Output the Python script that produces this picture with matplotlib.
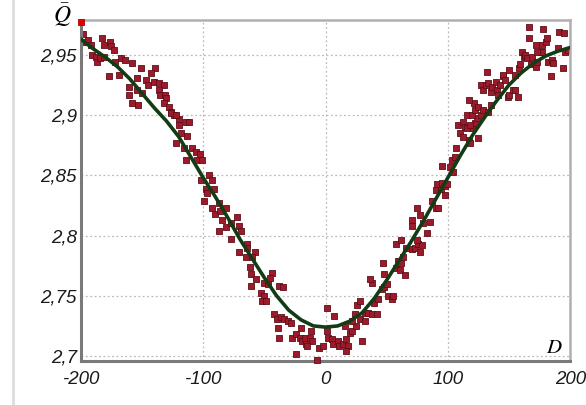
import matplotlib
matplotlib.use("Agg")
import matplotlib.pyplot as plt
from matplotlib.lines import Line2D
from matplotlib.ticker import FuncFormatter

# fitted curve
curve_d = [-200, -190, -180, -170, -160, -150, -140, -130, -120, -110, -100,
           -90, -80, -70, -60, -50, -40, -30, -20, -10, 0,
           10, 20, 30, 40, 50, 60, 70, 80, 90, 100,
           110, 120, 130, 140, 150, 160, 170, 180, 190, 200]
curve_q = [2.963, 2.955, 2.948, 2.940, 2.930, 2.918, 2.906, 2.895, 2.882, 2.865, 2.848,
           2.832, 2.815, 2.797, 2.781, 2.765, 2.750, 2.738, 2.730, 2.725, 2.724,
           2.725, 2.729, 2.736, 2.748, 2.763, 2.779, 2.795, 2.812, 2.830, 2.848,
           2.866, 2.883, 2.898, 2.912, 2.925, 2.935, 2.943, 2.949, 2.953, 2.956]

# measured points
pts_d = [-198, -196, -194, -192, -183, -181, -176, -175, -173, -191,
         -188, -187, -184, -181, -172, -167, -164, -158, -177, -169,
         -151, -139, -143, -154, -147, -145, -140, -136, -132, -161,
         -154, -161, -150, -136, -135, -131, -130, -158, -153, -132,
         -128, -126, -124, -120, -120, -114,
         -126, -122, -112, -118, -113, -122, -116, -109, -106, -103,
         -105, -101, -114, -95, -102, -93, -98, -91, -97, -99,
         -93, -87, -81, -90, -86, -85, -72, -81, -77, -87,
         -71, -69, -77, -64, -64, -71, -58, -65,
         -60, -62, -61, -57, -44, -45, -50, -47, -61, -53,
         -50, -52, -49, -38, -35, -42, -40, -39, -36, -34,
         -31, -28, -38, -27, -24, -21, -19, -16, -17, -20,
         -12, -13, -11, -15, -24, -5, -2, 1, 7, 1,
         2, 5, 6, 10, 11, 14, 17, 18, 17, 20,
         22, 16, 25, 30, 22, 28, 32, 24, 26, 28,
         32, 35, 38, 42, 38, 40, 43, 46, 48, 50,
         47, 48, 51, 54, 55, 58, 59, 58,
         36, 61, 62, 65, 63, 62, 66, 71, 73, 76,
         77, 79, 75, 83, 71, 71, 77, 80, 85, 75,
         87, 90, 92, 90, 94, 91, 95, 98, 99, 98,
         95, 102, 104, 103, 106, 107, 108, 110, 112, 112,
         114, 116, 117, 118, 120, 122, 124, 125,
         116, 118, 120, 121, 122, 125, 127, 129, 133, 135,
         127, 129, 131, 133, 135, 136, 139, 140, 141, 143,
         145, 145, 147, 150, 149, 150, 153, 155, 157, 132,
         155, 158, 159, 161, 162, 163, 165, 168, 169, 172,
         173, 176, 177, 177, 180, 181, 178, 166, 166, 172,
         173, 182, 185, 184, 186, 190, 191, 195, 194, 196,
         198, 117]
pts_q = [2.967, 2.961, 2.962, 2.958, 2.964, 2.958, 2.961, 2.957, 2.954, 2.950,
         2.948, 2.944, 2.947, 2.948, 2.944, 2.947, 2.946, 2.943, 2.932, 2.933,
         2.939, 2.939, 2.935, 2.931, 2.929, 2.925, 2.9275, 2.927, 2.925, 2.923,
         2.921, 2.917, 2.918, 2.921, 2.917, 2.917, 2.914, 2.910, 2.908, 2.910,
         2.907, 2.9025, 2.900, 2.897, 2.892, 2.894,
         2.902, 2.900, 2.894, 2.885, 2.883, 2.877, 2.873, 2.8725, 2.869, 2.868,
         2.8625, 2.8625, 2.8625, 2.850, 2.846, 2.846, 2.839, 2.839, 2.835, 2.829,
         2.823, 2.827, 2.823, 2.818, 2.820, 2.8125, 2.815, 2.807, 2.810, 2.804,
         2.808, 2.804, 2.7975, 2.793, 2.790, 2.786, 2.786, 2.782,
         2.782, 2.774, 2.768, 2.764, 2.769, 2.765, 2.761, 2.760, 2.758, 2.752,
         2.750, 2.746, 2.746, 2.758, 2.757, 2.735, 2.731, 2.723, 2.732, 2.731,
         2.729, 2.7275, 2.715, 2.715, 2.718, 2.715, 2.7125, 2.710, 2.715, 2.723,
         2.721, 2.715, 2.7125, 2.708, 2.7015, 2.707, 2.708, 2.740, 2.733, 2.721,
         2.715, 2.714, 2.710, 2.7125, 2.708, 2.710, 2.714, 2.708, 2.704, 2.719,
         2.721, 2.725, 2.725, 2.7125, 2.729, 2.731, 2.729, 2.735, 2.742, 2.746,
         2.736, 2.736, 2.735, 2.735, 2.761, 2.744, 2.7475, 2.756, 2.757, 2.760,
         2.777, 2.768, 2.750, 2.7475, 2.750, 2.773, 2.779, 2.793,
         2.764, 2.771, 2.777, 2.767, 2.782, 2.796, 2.790, 2.789, 2.790, 2.793,
         2.786, 2.792, 2.796, 2.802, 2.808, 2.8125, 2.817, 2.810, 2.811, 2.823,
         2.829, 2.8225, 2.823, 2.8375, 2.839, 2.843, 2.844, 2.8415, 2.843, 2.8335,
         2.858, 2.857, 2.8525, 2.8625, 2.865, 2.873, 2.892, 2.885, 2.882, 2.894,
         2.890, 2.900, 2.879, 2.877, 2.889, 2.893, 2.8975, 2.881,
         2.889, 2.892, 2.900, 2.910, 2.904, 2.907, 2.900, 2.904, 2.9025, 2.908,
         2.925, 2.921, 2.925, 2.927, 2.919, 2.923, 2.9275, 2.921, 2.917, 2.925,
         2.932, 2.933, 2.929, 2.9375, 2.915, 2.917, 2.921, 2.921, 2.915, 2.936,
         2.933, 2.939, 2.942, 2.952, 2.948, 2.950, 2.9475, 2.942, 2.948, 2.940,
         2.944, 2.952, 2.9525, 2.958, 2.961, 2.964, 2.971, 2.973, 2.964, 2.958,
         2.9525, 2.944, 2.946, 2.932, 2.943, 2.956, 2.969, 2.968, 2.939, 2.952,
         2.954, 2.9125]

# the bright outlier at the corner and the one on the bottom edge
edge_d = [-200, -7]
edge_q = [2.977, 2.697]

xticks = [-200, -100, 0, 100, 200]
yticks = [2.7, 2.75, 2.8, 2.85, 2.9, 2.95]

plt.rcParams['mathtext.fontset'] = 'stix'

fig = plt.figure(figsize=(5.86, 4.05), dpi=100)
ax = fig.add_axes([0.138, 0.109, 0.835, 0.842])

ax.scatter(pts_d, pts_q, marker='s', s=18, c='#9c1a2a', edgecolors='#5e0e1a',
           linewidths=0.6, zorder=2)
ax.scatter(edge_d[:1], edge_q[:1], marker='s', s=18, c='#e00000', edgecolors='#b00000',
           linewidths=0.6, zorder=4, clip_on=False)
ax.scatter(edge_d[1:], edge_q[1:], marker='s', s=18, c='#9c1a2a', edgecolors='#5e0e1a',
           linewidths=0.6, zorder=4, clip_on=False)
ax.plot(curve_d, curve_q, color='#123d14', lw=2.6, zorder=3)

ax.set_xlim(-200, 200)
ax.set_ylim(2.696, 2.979)
ax.set_xticks(xticks)
ax.set_yticks(yticks)
ax.xaxis.set_major_formatter(FuncFormatter(lambda v, p: f"{v:g}"))
ax.yaxis.set_major_formatter(FuncFormatter(lambda v, p: f"{v:g}".replace('.', ',')))
ax.tick_params(length=0, labelsize=13.5, labelcolor='#1a1a1a')
ax.tick_params(axis='y', pad=3)
ax.tick_params(axis='x', pad=7)
for lab in ax.get_xticklabels() + ax.get_yticklabels():
    lab.set_fontstyle('italic')
    lab.set_family('Liberation Sans')

ax.grid(True, ls=(0, (1.5, 2)), color='#bbbbbb', lw=0.9)
ax.set_axisbelow(True)

for side in ['top', 'right']:
    ax.spines[side].set_color('#b0b0b0')
    ax.spines[side].set_linewidth(1.8)
for side in ['left', 'bottom']:
    ax.spines[side].set_color('#7a7a7a')
    ax.spines[side].set_linewidth(2.2)

fig.text(0.107, 0.997, r'$\bar{Q}$', fontsize=17, ha='center', va='top')
ax.text(0.985, 0.012, r'$D$', transform=ax.transAxes, fontsize=15, ha='right', va='bottom')

fig.add_artist(Line2D([0.022, 0.022], [0, 1], transform=fig.transFigure,
                      color='#dddddd', lw=2))

fig.savefig('out.png', dpi=100)
